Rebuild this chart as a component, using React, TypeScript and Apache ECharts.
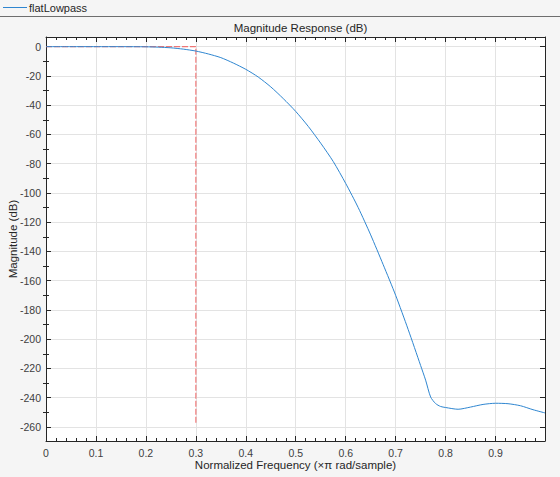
import React, { useEffect, useRef } from "react";
import * as echarts from "echarts";

const freq = [0, 0.05, 0.1, 0.15, 0.2, 0.225, 0.25, 0.275, 0.3, 0.325, 0.35, 0.375, 0.4, 0.425, 0.45, 0.475, 0.5, 0.525, 0.55, 0.575, 0.6, 0.625, 0.65, 0.675, 0.7, 0.725, 0.75, 0.76, 0.77, 0.78, 0.79, 0.8, 0.825, 0.85, 0.875, 0.9, 0.925, 0.95, 0.975, 0.999];
const magDb = [0, 0, 0, 0, -0.1, -0.35, -0.8, -1.7, -3.0, -5.0, -7.5, -11.2, -15.5, -20.8, -27.5, -35.5, -44.3, -54.5, -66, -78.5, -93.5, -110, -128.7, -149, -170, -193.3, -218, -228, -239.5, -244, -246, -246.7, -247.9, -246.4, -244.6, -243.8, -244.1, -245.5, -248.2, -250.4];
const maskFreq = [0, 0.3, 0.3];
const maskDb = [0, 0, -258];
const yTicks = [-260, -240, -220, -200, -180, -160, -140, -120, -100, -80, -60, -40, -20, 0];
const yMinorTicks = [-270, -250, -230, -210, -190, -170, -150, -130, -110, -90, -70, -50, -30, -10];
const seriesName = "flatLowpass";
const titleText = "Magnitude Response (dB)";
const xName = "Normalized Frequency (×π rad/sample)";
const yName = "Magnitude (dB)";
const yMin = -269.6;
const yMax = 6.6;

const FONT = "'Liberation Sans', Arial, sans-serif";
const AX = "#262626";
const LBL = "#404040";
const GRID = "#e3e3e3";

export default function App() {
  const ref = useRef<HTMLDivElement>(null);
  useEffect(() => {
    if (!ref.current) return;
    const chart = echarts.init(ref.current, null, { renderer: "svg" });
    const axisLine = { show: true, onZero: false, lineStyle: { color: AX, width: 1 } };
    const xAxisBase = {
      type: "value",
      min: 0,
      max: 0.999,
      interval: 0.1,
      offset: 0,
      axisLine,
      axisTick: { show: true, inside: true, length: 5, lineStyle: { color: AX } },
      minorTick: { show: true, splitNumber: 5, length: 3, lineStyle: { color: AX } },
    };
    const yMajor = (position: string, labels: boolean) => ({
      type: "value",
      min: yMin,
      max: yMax,
      position,
      offset: 0,
      axisLine,
      axisTick: { show: true, inside: true, length: 5, customValues: yTicks, lineStyle: { color: AX } },
      axisLabel: labels
        ? { show: true, customValues: yTicks, fontSize: 10.5, color: LBL, fontFamily: FONT, margin: 5 }
        : { show: false },
      splitLine: { show: labels, lineStyle: { color: GRID } },
      ...(labels
        ? {
            name: yName,
            nameLocation: "middle",
            nameGap: 27,
            nameRotate: 90,
            nameMoveOverlap: false,
            nameTextStyle: { fontSize: 11.5, color: AX, fontFamily: FONT },
          }
        : {}),
    });
    const yMinor = (position: string) => ({
      type: "value",
      min: yMin,
      max: yMax,
      position,
      offset: 0,
      axisLine: { show: false },
      axisTick: { show: true, inside: true, length: 3, customValues: yMinorTicks, lineStyle: { color: AX } },
      axisLabel: { show: false },
      splitLine: { show: false },
    });
    chart.setOption({
      animation: false,
      backgroundColor: "#f5f5f5",
      textStyle: { fontFamily: FONT },
      title: {
        text: titleText,
        left: 295.5,
        top: 17,
        textAlign: "center",
        textStyle: { fontSize: 11.5, fontWeight: "normal", color: AX, fontFamily: FONT },
      },
      legend: {
        data: [seriesName],
        left: 3,
        top: 2,
        padding: 0,
        icon: "rect",
        itemWidth: 24,
        itemHeight: 1,
        textStyle: { fontSize: 11, color: AX, fontFamily: FONT, padding: [0, 0, 0, -3] },
      },
      graphic: [
        {
          type: "line",
          shape: { x1: 0, y1: 16.5, x2: 560, y2: 16.5 },
          style: { stroke: "#6e6e6e", lineWidth: 1 },
          silent: true,
        },
      ],
      grid: {
        left: 46,
        top: 37,
        right: 15,
        bottom: 36,
        show: true,
        backgroundColor: "#ffffff",
        borderWidth: 0,
        containLabel: false,
        outerBoundsMode: "none",
      },
      xAxis: [
        {
          ...xAxisBase,
          position: "bottom",
          axisLabel: {
            fontSize: 10.5,
            color: LBL,
            fontFamily: FONT,
            margin: 6,
            showMaxLabel: false,
            formatter: (v: number) =>
              Math.abs(v * 10 - Math.round(v * 10)) < 1e-6 ? String(Math.round(v * 10) / 10) : "",
          },
          splitLine: { show: true, lineStyle: { color: GRID } },
          name: xName,
          nameLocation: "middle",
          nameGap: 18,
          nameMoveOverlap: false,
          nameTextStyle: { fontSize: 11.5, color: AX, fontFamily: FONT },
        },
        {
          ...xAxisBase,
          position: "top",
          axisLabel: { show: false },
          splitLine: { show: false },
        },
      ],
      yAxis: [yMajor("left", true), yMajor("right", false), yMinor("left"), yMinor("right")],
      series: [
        {
          name: "mask",
          type: "line",
          data: maskFreq.map((f, i) => [f, maskDb[i]]),
          symbol: "none",
          lineStyle: { color: "#f06464", width: 1.2, type: [6, 2], opacity: 0.85 },
          z: 1,
          silent: true,
        },
        {
          name: seriesName,
          type: "line",
          data: freq.map((f, i) => [f, magDb[i]]),
          symbol: "none",
          showSymbol: false,
          smooth: 0.25,
          lineStyle: { color: "#2f86d0", width: 1 },
          itemStyle: { color: "#2f86d0" },
          z: 2,
        },
      ],
    });
    return () => chart.dispose();
  }, []);
  return <div ref={ref} style={{ width: 560, height: 477, position: "fixed", left: 0, top: 0 }} />;
}
